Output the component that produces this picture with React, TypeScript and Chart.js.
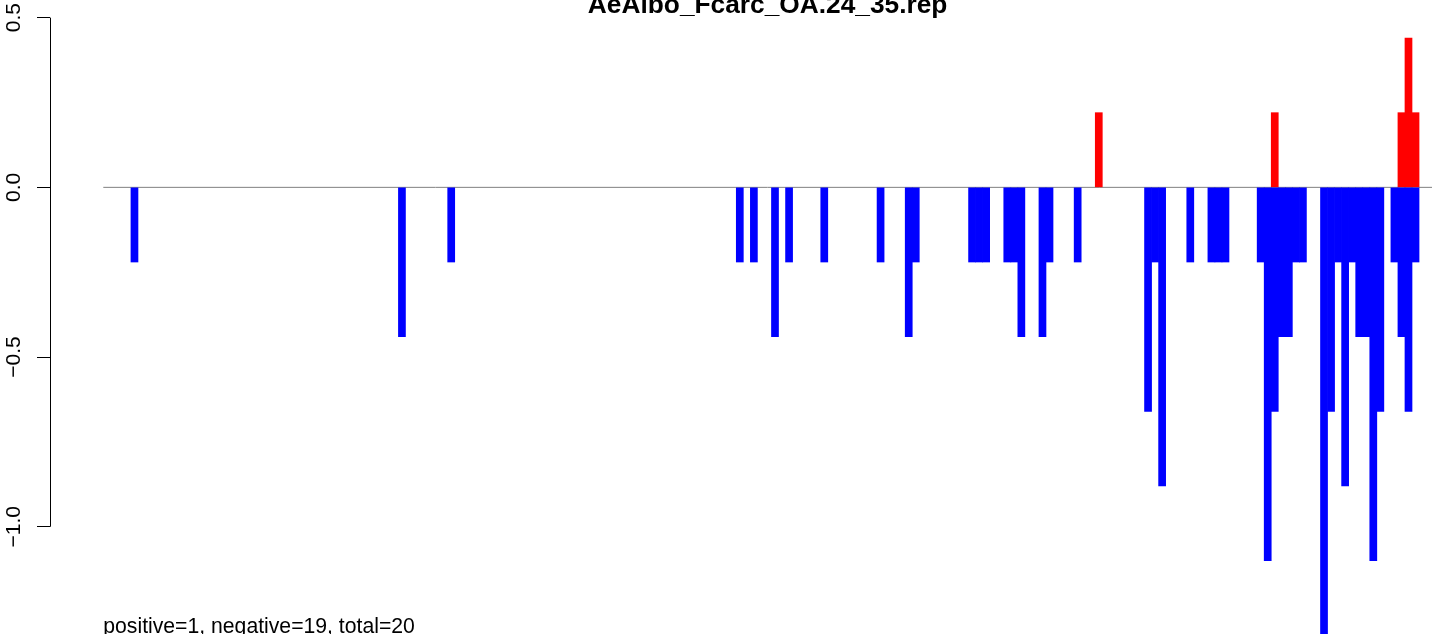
import React, { useEffect, useRef } from 'react';
import { Chart, registerables } from 'chart.js';

Chart.register(...registerables);

// ---- text ----
const TITLE = 'AeAlbo_Fcarc_OA.24_35.rep';
const FOOTNOTE = 'positive=1, negative=19, total=20';

// ---- data (bar slot index -> value) ----
const NEG_POSITIONS = [
  0, 38, 45, 86, 88, 91, 93, 98, 106, 110, 111, 119, 120, 121, 124, 125, 126, 129, 130, 134,
  144, 145, 146, 150, 153, 154, 155, 160, 161, 162, 163, 164, 165, 166, 169, 170, 171, 172,
  173, 174, 175, 176, 177, 179, 180, 181, 182,
];
const NEG_VALUES = [
  -0.22, -0.44, -0.22, -0.22, -0.22, -0.44, -0.22, -0.22, -0.22, -0.44, -0.22, -0.22, -0.22,
  -0.22, -0.22, -0.22, -0.44, -0.44, -0.22, -0.22, -0.66, -0.22, -0.88, -0.22, -0.22, -0.22,
  -0.22, -0.22, -1.1, -0.66, -0.44, -0.44, -0.22, -0.22, -1.32, -0.66, -0.22, -0.88, -0.22,
  -0.44, -0.44, -1.1, -0.66, -0.22, -0.44, -0.66, -0.22,
];
const POS_POSITIONS = [137, 162, 180, 181, 182];
const POS_VALUES = [0.22, 0.22, 0.22, 0.44, 0.22];

// ---- axes ----
const Y_TICKS = [-1, -0.5, 0, 0.5];
const Y_MIN = -1.316;
const Y_MAX = 0.552;
const X_MIN = -12;
const X_MAX = 184.34;
const PLOT_START = -4.43; // left end of the plot region (zero line start)

const FONT = '"Liberation Sans", Arial, Helvetica, sans-serif';

const fmt = (v: number) => {
  const s = Math.abs(v).toFixed(1);
  return v < 0 ? '\u2212' + s : s;
};

const rStylePlugin = {
  id: 'rStyle',
  beforeDatasetsDraw(chart: any) {
    const { ctx, chartArea } = chart;
    const x = chart.scales.x;
    const y = chart.scales.y;
    const y0 = y.getPixelForValue(0);
    ctx.save();
    ctx.strokeStyle = '#808080';
    ctx.lineWidth = 1;
    ctx.beginPath();
    ctx.moveTo(x.getPixelForValue(PLOT_START), y0);
    ctx.lineTo(chartArea.right, y0);
    ctx.stroke();
    ctx.restore();
  },
  afterDraw(chart: any) {
    const { ctx, chartArea } = chart;
    const x = chart.scales.x;
    const y = chart.scales.y;
    ctx.save();
    // y axis line between first and last tick (R style)
    const ax = y.right + 0.5;
    ctx.strokeStyle = '#000';
    ctx.lineWidth = 1;
    ctx.beginPath();
    ctx.moveTo(ax, y.getPixelForValue(Math.max(...Y_TICKS)));
    ctx.lineTo(ax, y.getPixelForValue(Math.min(...Y_TICKS)));
    ctx.stroke();

    const left = x.getPixelForValue(PLOT_START);
    // title
    ctx.fillStyle = '#000';
    ctx.font = `bold 26.3px ${FONT}`;
    ctx.textAlign = 'center';
    ctx.textBaseline = 'alphabetic';
    ctx.fillText(TITLE, (left + chartArea.right) / 2, 13);
    // footnote
    ctx.font = `21.2px ${FONT}`;
    ctx.textAlign = 'left';
    ctx.fillText(FOOTNOTE, left, 633);
    ctx.restore();
  },
};

export default function App() {
  const ref = useRef<HTMLCanvasElement>(null);
  useEffect(() => {
    document.body.style.margin = '0';
    const chart = new Chart(ref.current as HTMLCanvasElement, {
      type: 'bar',
      data: {
        datasets: [
          {
            label: 'negative',
            data: NEG_POSITIONS.map((p, i) => ({ x: p, y: NEG_VALUES[i] })),
            backgroundColor: '#0000FF',
            borderWidth: 0,
            stack: 's',
            barPercentage: 1,
            categoryPercentage: 1,
          },
          {
            label: 'positive',
            data: POS_POSITIONS.map((p, i) => ({ x: p, y: POS_VALUES[i] })),
            backgroundColor: '#FF0000',
            borderWidth: 0,
            stack: 's',
            barPercentage: 1,
            categoryPercentage: 1,
          },
        ],
      } as any,
      options: {
        animation: false,
        responsive: false,
        layout: { padding: { left: 0, right: 12, top: 0, bottom: 0 }, autoPadding: false } as any,
        plugins: {
          legend: { display: false },
          tooltip: { enabled: false },
          title: { display: false },
        },
        scales: {
          x: {
            type: 'linear',
            min: X_MIN,
            max: X_MAX,
            stacked: true,
            display: false,
            offset: false,
            grid: { display: false },
          },
          y: {
            type: 'linear',
            min: Y_MIN,
            max: Y_MAX,
            stacked: true,
            position: 'left',
            afterFit: (s: any) => {
              s.width = 50;
              s.paddingTop = 0;
              s.paddingBottom = 0;
            },
            afterBuildTicks: (s: any) => {
              s.ticks = Y_TICKS.map((v) => ({ value: v }));
            },
            ticks: {
              minRotation: 90,
              maxRotation: 90,
              crossAlign: 'center',
              padding: 2,
              color: '#000',
              font: { family: FONT, size: 21 },
              callback: (v: any) => fmt(Number(v)),
            },
            grid: {
              drawOnChartArea: false,
              drawTicks: true,
              tickLength: 13,
              color: '#000',
              lineWidth: 1,
            },
            border: { display: false },
          },
        },
      } as any,
      plugins: [rStylePlugin],
    });
    return () => chart.destroy();
  }, []);
  return <canvas ref={ref} width={1444} height={634} style={{ display: 'block' }} />;
}
